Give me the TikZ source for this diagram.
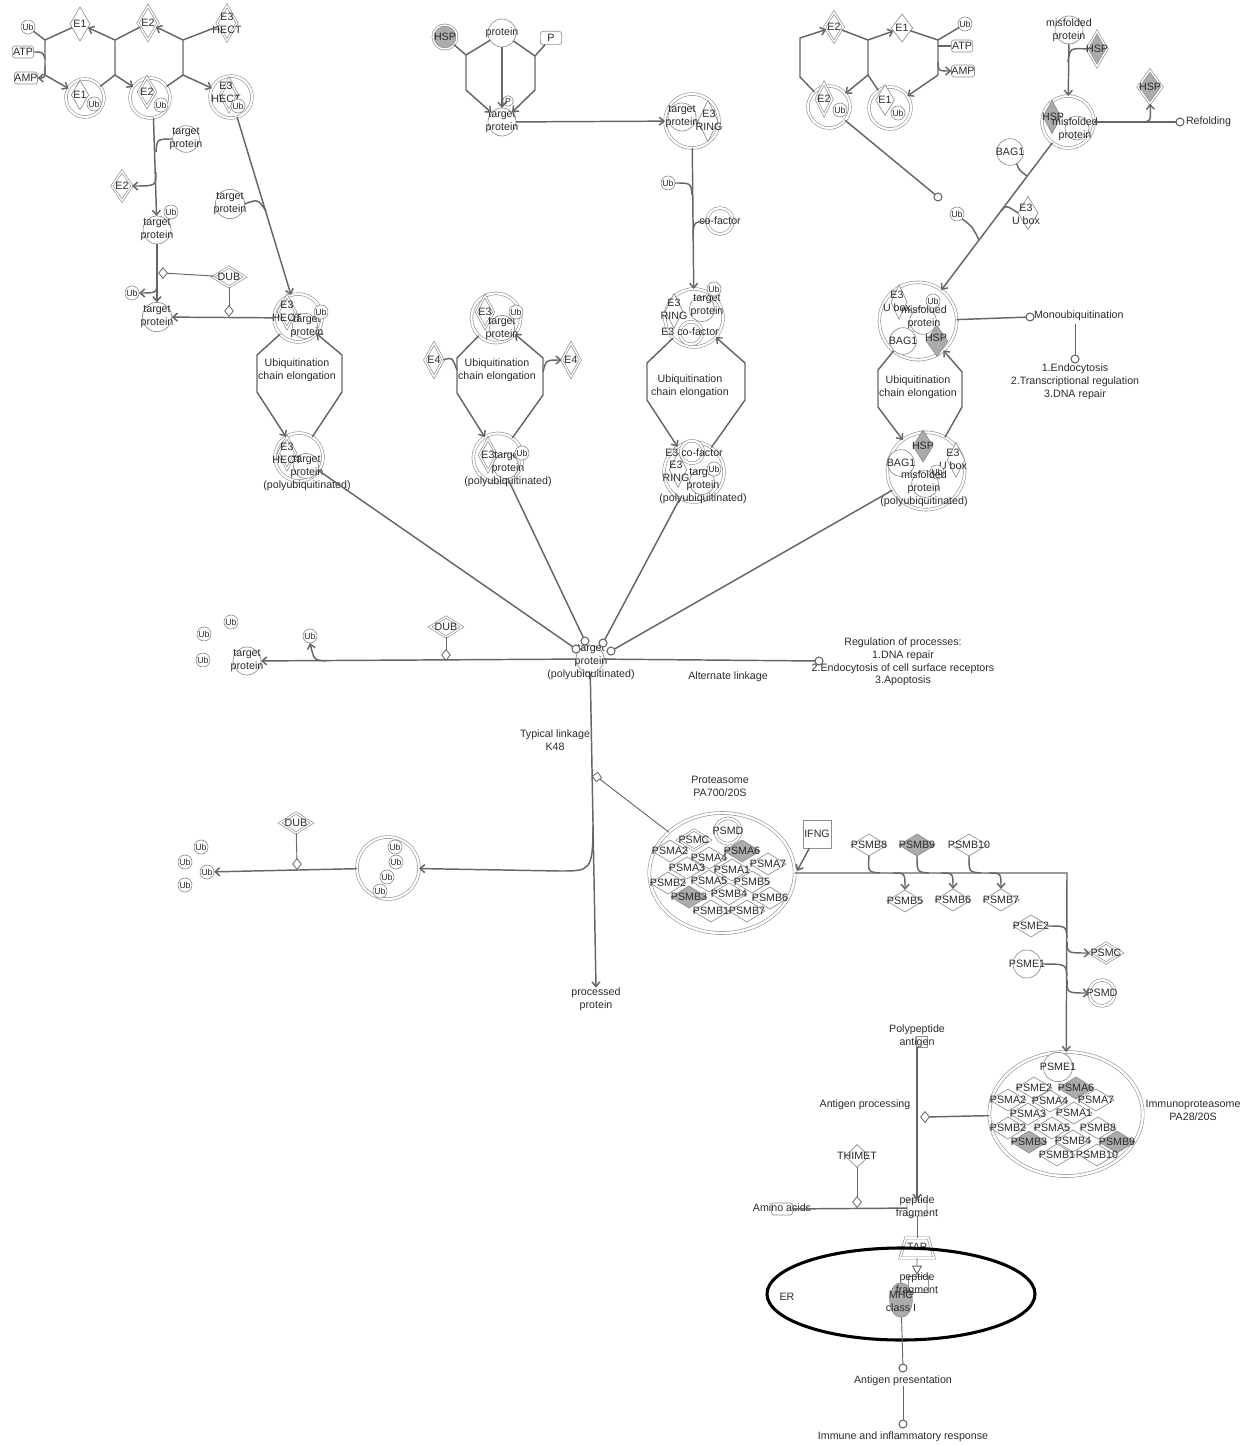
\documentclass[tikz,border=0pt]{standalone}
\usepackage{fontspec}
\setmainfont{Liberation Sans}
\usetikzlibrary{shapes.geometric,arrows.meta,calc}
\definecolor{lc}{HTML}{666666}
\definecolor{nc}{HTML}{8F8F8F}
\definecolor{tc}{HTML}{2B2B2B}
\definecolor{gf}{HTML}{ABABAB}
\tikzset{
 every node/.style={font=\fontsize{8}{9.6}\selectfont, text=tc, align=center, inner sep=0pt, outer sep=0pt},
 ln/.style={draw=lc, line width=1.1pt},
 mline/.style={draw=lc, line width=0.7pt},
 ar/.style={ln, -{Straight Barb[length=3.5pt,width=6pt]}},
 tx/.style={label={center:{#1}}},
 pc/.style={circle, draw=nc, fill=white, line width=0.5pt, minimum size=#1},
 cx/.style={circle, draw=nc, double=white, double distance=1.6pt, line width=0.45pt, fill=white, minimum size=#1},
 ub/.style={circle, draw=nc, fill=white, line width=0.5pt, minimum size=10.5pt, font=\fontsize{6.6}{7}\selectfont},
 dm/.style 2 args={diamond, draw=nc, fill=white, line width=0.5pt, minimum width=#1, minimum height=#2},
 dbl/.style={double=white, double distance=1pt},
 gr/.style={fill=gf},
 rr/.style={rectangle, rounded corners=2pt, draw=nc, fill=white, line width=0.5pt, minimum width=#1, minimum height=9pt},
 ec/.style={circle, draw=lc, line width=0.8pt, fill=white, minimum size=6pt},
 md/.style={diamond, draw=lc, line width=0.6pt, fill=white, minimum width=6.5pt, minimum height=8pt},
 ps/.style={diamond, draw=nc, line width=0.5pt, minimum width=27pt, minimum height=16.5pt},
}
\begin{document}
\begin{tikzpicture}[x=0.75pt,y=-0.75pt]
\useasboundingbox (0,0) rectangle (1250,1445);

%%%%%%%% TOP LEFT
\node[ub] (ubA) at (28,27) {Ub};
\node[rr=16pt] (atpA) at (23,52) {ATP};
\node[rr=16pt] (ampA) at (26,78) {AMP};
\node[dm={15pt}{25.5pt}, tx=E1] (e1A) at (80,24) {};
\node[dm={15pt}{25.5pt}, dbl, tx=E2] (e2A) at (148,23) {};
\node[dm={15pt}{26pt}, dbl, tx={E3\\HECT}] (e3A) at (227,23) {};
\node[cx=28.5pt] (cxE1) at (85,98) {};
\node[dm={13pt}{22pt}, tx=E1] (cxE1d) at (80,95) {};
\node[ub] (cxE1u) at (94,104) {Ub};
\node[cx=30pt] (cxE2) at (150,98) {};
\node[dm={13pt}{22pt}, dbl, tx=E2] (cxE2d) at (147,92) {};
\node[ub] (cxE2u) at (161,105) {Ub};
\node[cx=31.5pt] (cxE3) at (231,97) {};
\node[dm={13pt}{24pt}, dbl] (cxE3d) at (229,95) {};
\node (cxE3t) at (226,92) {E3\\HECT};
\node[ub] (cxE3u) at (238,106) {Ub};

\node[pc=20pt, tx={target\\protein}] (tp1) at (186,139) {};
\node[dm={15pt}{22pt}, dbl, tx=E2] (e2B) at (122,186) {};
\node[pc=21pt, tx={target\\protein}] (tp2) at (157,230) {};
\node[ub] (tp2u) at (171,212) {Ub};
\node[dm={24pt}{15pt}, dbl, tx=DUB] (dub1) at (229,277) {};
\node[ub] (ubB) at (132,293) {Ub};
\node[pc=22pt, tx={target\\protein}] (tp3) at (157,317) {};
\node[pc=22pt, tx={target\\protein}] (tp4) at (230,204) {};

%%%%%%%% HECT cycle
\node[cx=36pt] (hc1) at (298,318) {};
\node[dm={13pt}{24pt}, dbl] (hc1d) at (287,312) {};
\node[pc=19pt] (hc1p) at (305,326) {};
\node (hc1t) at (287,311) {E3\\HECT};
\node (hc1q) at (307,327) {target\\protein};
\node[ub] (hc1u) at (321,312) {Ub};
\node[cx=36pt] (hc2) at (299,457) {};
\node[dm={13pt}{24pt}, dbl] (hc2d) at (287,453) {};
\node[pc=19pt] (hc2p) at (306,466) {};
\node (hc2t) at (287,453) {E3\\HECT};
\node (hc2q) at (307,473) {target\\protein\\(polyubiquitinated)};
\node (uce1) at (297,370) {Ubiquitination\\chain elongation};

%%%%%%%% E4 cycle
\node[cx=37pt] (ec1) at (496,318) {};
\node[dm={13pt}{24pt}, dbl, tx=E3] (ec1d) at (485,312) {};
\node[pc=19pt] (ec1p) at (502,328) {};
\node (ec1q) at (502,329) {target\\protein};
\node[ub] (ec1u) at (516,312) {Ub};
\node[cx=37pt] (ec2) at (498,458) {};
\node[dm={13pt}{24pt}, dbl, tx=E3] (ec2d) at (488,455) {};
\node[pc=19pt] (ec2p) at (506,466) {};
\node (ec2q) at (508,469) {target\\protein\\(polyubiquitinated)};
\node[ub] (ec2u) at (522,453) {Ub};
\node[dm={14pt}{25pt}, dbl, tx=E4] (e4L) at (434,360) {};
\node[dm={14pt}{25pt}, dbl, tx=E4] (e4R) at (571,360) {};
\node (uce2) at (497,370) {Ubiquitination\\chain elongation};

%%%%%%%% TOP MIDDLE
\node[pc=18pt, gr, dbl, tx=HSP] (hsp1) at (445,37) {};
\node[pc=21pt, tx=protein] (prot1) at (502,33) {};
\node[rr=16pt, minimum height=10pt] (p1) at (551,38) {P};
\node[pc=21pt, tx={target\\protein}] (tp5) at (502,122) {};
\node[ub, minimum size=8pt] (tp5u) at (508,101) {P};

%%%%%%%% RING
\node[cx=40.5pt] (rc0) at (692,121) {};
\node[pc=21pt] (rc0p) at (682,117) {};
\node[dm={15pt}{31pt}] (rc0d) at (708,121) {};
\node (rc0t) at (682,117) {target\\protein};
\node (rc0e) at (709,120) {E3\\RING};
\node[ub] (ubR) at (668,183) {Ub};
\node[cx=19.5pt] (cof) at (720,221) {};
\node (coft) at (720,221) {co-factor};

\node[cx=43.5pt] (rc1) at (694,318) {};
\node[dm={13pt}{26pt}] (rc1d) at (674,311) {};
\node[pc=19pt] (rc1p) at (702,309) {};
\node[cx=17pt] (rc1c) at (691,333) {};
\node (rc1e) at (674,309) {E3\\RING};
\node (rc1q) at (707,306) {target\\protein};
\node (rc1f) at (690,332) {E3 co-factor};
\node[ub] (rc1u) at (714,289) {Ub};
\node[cx=45pt] (rc2) at (694,472) {};
\node[cx=17pt] (rc2c) at (692,452) {};
\node[dm={13pt}{26pt}] (rc2d) at (678,470) {};
\node[pc=19pt] (rc2p) at (702,482) {};
\node (rc2f) at (694,453) {E3 co-factor};
\node (rc2e) at (676,471) {E3\\RING};
\node (rc2q) at (703,486) {target\\protein\\(polyubiquitinated)};
\node[ub] (rc2u) at (714,469) {Ub};
\node (uce3) at (690,386) {Ubiquitination\\chain elongation};

%%%%%%%% TOP RIGHT
\node[dm={14pt}{22pt}, dbl, tx=E2] (e2C) at (834,27) {};
\node[dm={16pt}{21pt}, tx=E1] (e1C) at (902,28) {};
\node[ub] (ubC) at (965,24) {Ub};
\node[rr=16pt] (atpC) at (962,46) {ATP};
\node[rr=16pt] (ampC) at (963,71) {AMP};
\node[cx=31.5pt] (cxC2) at (829,107) {};
\node[dm={12pt}{24pt}, dbl, tx=E2] (cxC2d) at (824,99) {};
\node[ub] (cxC2u) at (840,110) {Ub};
\node[cx=31.5pt] (cxC1) at (890,108) {};
\node[dm={14pt}{23pt}, tx=E1] (cxC1d) at (885,100) {};
\node[ub] (cxC1u) at (898,113) {Ub};
\node[ec] (ceC) at (938,197) {};

\node[pc=21pt, tx={misfolded\\protein}] (mf1) at (1069,30) {};
\node[dm={15pt}{26pt}, dbl, gr, tx=HSP] (hsp2) at (1097,49) {};
\node[cx=39pt] (mfc) at (1068,122) {};
\node[dm={13pt}{25pt}, gr] (mfcd) at (1052,117) {};
\node[pc=18pt] (mfcp) at (1077,128) {};
\node (mfct) at (1053,117) {HSP};
\node (mfcq) at (1075,129) {misfolded\\protein};
\node[dm={18pt}{25pt}, dbl, gr, tx=HSP] (hsp3) at (1150,87) {};
\node[ec] (refc) at (1180,122) {};
\node[anchor=west] (reft) at (1186,122) {Refolding};
\node[pc=20pt, tx=BAG1] (bag1) at (1010,152) {};
\node[dm={15pt}{25pt}] (e3U) at (1028,213) {};
\node (e3Ut) at (1026,214) {E3\\U box};
\node[ub] (ubU) at (957,214) {Ub};

%%%%%%%% U-box cycle
\node[cx=58pt] (uc1) at (918,321) {};
\node[dm={12pt}{26pt}] (uc1d) at (899,302) {};
\node[pc=20pt] (uc1p) at (923,321) {};
\node[pc=20pt] (uc1b) at (903,341) {};
\node[dm={16pt}{23pt}, gr] (uc1h) at (937,341) {};
\node (uc1e) at (897,301) {E3\\U box};
\node (uc1q) at (924,317) {misfolded\\protein};
\node (uc1bt) at (903,341) {BAG1};
\node (uc1ht) at (936,338) {HSP};
\node[ub] (uc1u) at (933,301) {Ub};
\node[ec] (monoc) at (1030,317) {};
\node[anchor=west] (monot) at (1034,316) {Monoubiquitination};
\coordinate (monod) at (1075,324);
\node[ec] (endoc) at (1075,359) {};
\node (endot) at (1075,382) {1.Endocytosis\\2.Transcriptional regulation\\3.DNA repair};
\node[cx=58pt] (uc2) at (926,471) {};
\node[dm={15pt}{24pt}, gr] (uc2h) at (923,446) {};
\node[dm={13pt}{26pt}] (uc2d) at (956,460) {};
\node[pc=20pt] (uc2b) at (901,463) {};
\node[pc=20pt] (uc2p) at (925,484) {};
\node (uc2ht) at (923,446) {HSP};
\node (uc2e) at (953,459) {E3\\U box};
\node (uc2bt) at (901,463) {BAG1};
\node[ub] (uc2u) at (937,472) {Ub};
\node (uc2q) at (924,489) {misfolded\\protein\\(polyubiquitinated)};
\node (uce4) at (918,387) {Ubiquitination\\chain elongation};

%%%%%%%% CENTER
\node[pc=21pt] (ctp) at (590,659) {};
\node (ctpt) at (591,662) {target\\protein\\(polyubiquitinated)};
\node[ec] (ce1) at (576,649) {};
\node[ec] (ce2) at (585,641) {};
\node[ec] (ce3) at (603,643) {};
\node[ec] (ce4) at (611,651) {};
\node[ec] (regc) at (819,661) {};
\node (regt) at (903,662) {Regulation of processes:\\1.DNA repair\\2.Endocytosis of cell surface receptors\\3.Apoptosis};
\node (altl) at (728,677) {Alternate linkage};
\node[pc=21pt, tx={target\\protein}] (tp6) at (247,661) {};
\node[ub] (ubL1) at (231,622) {Ub};
\node[ub] (ubL2) at (204,634) {Ub};
\node[ub] (ubL3) at (203,660) {Ub};
\node[ub] (ubL4) at (310,636) {Ub};
\node[dm={24pt}{15pt}, dbl, tx=DUB] (dub2) at (446,627) {};
\node (procp) at (596,999) {processed\\protein};
\node (typl) at (555,740) {Typical linkage\\K48};

%%%%%%%% Ub complex
\node[cx=46.5pt] (ubcx) at (388,868) {};
\node[ub] (ubx1) at (395,847) {Ub};
\node[ub] (ubx2) at (396,862) {Ub};
\node[ub] (ubx3) at (387,877) {Ub};
\node[ub] (ubx4) at (380,891) {Ub};
\node[ub] (ubF1) at (201,847) {Ub};
\node[ub] (ubF2) at (185,862) {Ub};
\node[ub] (ubF3) at (207,872) {Ub};
\node[ub] (ubF4) at (185,885) {Ub};
\node[dm={24pt}{15pt}, dbl, tx=DUB] (dub3) at (296,823) {};

%%%%%%%% Proteasome
\node (pcxt) at (720,786) {Proteasome\\PA700/20S};
\node[ellipse, draw=nc, double=white, double distance=1.8pt, line width=0.45pt, fill=white, minimum width=109pt, minimum height=90pt] (pcx) at (722,873) {};
\node[ps, gr, tx=PSMA6] (pa6) at (742,851) {};
\node[ps, gr, tx=PSMB3] (pb3) at (689,897) {};
\node[cx=19pt, tx=PSMD] (psmd1) at (728,831) {};
\node[ps, dbl, minimum width=24pt, minimum height=15pt, tx=PSMC] (psmc1) at (694,840) {};
\node[ps, tx=PSMA2] (pa2) at (670,851) {};
\node[ps, tx=PSMA4] (pa4) at (709,858) {};
\node[ps, tx=PSMA7] (pa7) at (768,864) {};
\node[ps, tx=PSMA3] (pa3) at (687,868) {};
\node[ps, tx=PSMA1] (pa1) at (732,870) {};
\node[ps, tx=PSMB2] (pb2) at (668,883) {};
\node[ps, tx=PSMA5] (pa5) at (709,881) {};
\node[ps, tx=PSMB5] (pb5) at (752,882) {};
\node[ps, tx=PSMB4] (pb4) at (729,894) {};
\node[ps, tx=PSMB6] (pb6) at (770,898) {};
\node[ps, tx=PSMB1] (pb1) at (711,911) {};
\node[ps, tx=PSMB7] (pb7) at (747,911) {};
\node[rectangle, draw=nc, line width=0.6pt, fill=white, minimum size=21pt] (ifng) at (817,834) {IFNG};
\coordinate (pjoin) at (797,871);

\node[ps, tx=PSMB8] (b8) at (869,845) {};
\node[ps, gr, tx=PSMB9] (b9) at (917,845) {};
\node[ps, tx=PSMB10] (b10) at (969,845) {};
\node[ps, tx=PSMB5] (b5) at (905,901) {};
\node[ps, tx=PSMB6] (b6) at (953,900) {};
\node[ps, tx=PSMB7] (b7) at (1001,900) {};
\node[ps, tx=PSME2] (me2) at (1031,926) {};
\node[dm={24pt}{15pt}, dbl, tx=PSMC] (psmc2) at (1106,953) {};
\node[pc=21pt, tx=PSME1] (me1) at (1027,964) {};
\node[cx=19.5pt, tx=PSMD] (psmd2) at (1102,993) {};

%%%%%%%% Immunoproteasome
\node[ellipse, draw=nc, double=white, double distance=1.8pt, line width=0.45pt, fill=white, minimum width=115pt, minimum height=93pt] (ipcx) at (1066,1114) {};
\node[pc=22pt, tx=PSME1] (ime1) at (1058,1067) {};
\node[ps, gr, tx=PSMA6] (ia6) at (1076,1088) {};
\node[ps, gr, tx=PSMB3] (ib3) at (1029,1142) {};
\node[ps, gr, tx=PSMB9] (ib9) at (1117,1142) {};
\node[ps, tx=PSME2] (ime2) at (1034,1088) {};
\node[ps, tx=PSMA2] (ia2) at (1008,1100) {};
\node[ps, tx=PSMA4] (ia4) at (1050,1101) {};
\node[ps, tx=PSMA7] (ia7) at (1096,1100) {};
\node[ps, tx=PSMA3] (ia3) at (1028,1114) {};
\node[ps, tx=PSMA1] (ia1) at (1074,1113) {};
\node[ps, tx=PSMB2] (ib2) at (1008,1128) {};
\node[ps, tx=PSMA5] (ia5) at (1052,1128) {};
\node[ps, tx=PSMB8] (ib8) at (1098,1128) {};
\node[ps, tx=PSMB4] (ib4) at (1073,1141) {};
\node[ps, tx=PSMB1] (ib1) at (1057,1155) {};
\node[ps, tx=PSMB10] (ib10) at (1097,1155) {};
\node (ipt) at (1193,1110) {Immunoproteasome\\PA28/20S};

%%%%%%%% Antigen processing
\node[rectangle, draw=nc, line width=0.5pt, minimum width=8pt, minimum height=8pt] (ppr) at (922,1042) {};
\node (pp) at (917,1036) {Polypeptide\\antigen};
\node (apr) at (865,1105) {Antigen processing};
\node[dm={18pt}{17pt}, tx=THIMET] (thimet) at (857,1156) {};
\node[rectangle, rounded corners=2pt, draw=nc, line width=0.5pt, minimum width=16pt, minimum height=9pt] (aar) at (782,1209) {};
\node (aat) at (782,1208) {Amino acids};
\node[rectangle, rounded corners=1pt, draw=nc, line width=0.5pt, minimum width=15pt, minimum height=12pt] (pfr) at (917,1208) {};
\node (pf) at (917,1207) {peptide\\fragment};
\node[trapezium, trapezium left angle=72, trapezium right angle=72, trapezium stretches=true, draw=nc, line width=0.5pt, double=white, double distance=1.2pt, fill=white, inner sep=1pt, minimum width=22pt, minimum height=15pt, text height=7pt, text depth=4pt] (tap) at (917,1248) {TAP};
\node[ellipse, draw=black, line width=2.3pt, minimum width=201pt, minimum height=69pt] (er) at (901,1294) {};
\node (ert) at (787,1297) {ER};
\node[ellipse, draw=nc, fill=gf, line width=0.5pt, minimum width=17pt, minimum height=26pt] (mhc) at (901,1300) {};
\node[rectangle, draw=nc, line width=0.5pt, minimum width=15pt, minimum height=12pt] (pf2r) at (918,1284) {};
\node (pf2) at (917,1284) {peptide\\fragment};
\node (mhct) at (901,1301) {MHC\\class I};
\coordinate (taptip) at (917,1275);
\node[ec] (apc) at (903,1368) {};
\node (apt) at (903,1381) {Antigen presentation};
\node[ec] (imc) at (903,1424) {};
\node (imt) at (903,1437) {Immune and inflammatory response};

%%%%%%%%%%%%%%%% CONNECTORS
% top-left reactions
\coordinate (r1t) at (45,40); \coordinate (r1b) at (45,75);
\draw[ln] (ubA) -- (r1t) -- (r1b);
\draw[ln] (e1A) -- (r1t);
\draw[ln] (atpA.east) .. controls (43,52) .. (45,59);
\draw[ar] (45,66) .. controls (45,78) .. (ampA.east);
\draw[ar] (r1b) -- (cxE1);
\coordinate (r2t) at (115,40); \coordinate (r2b) at (115,75);
\draw[ln] (cxE1) -- (r2b) -- (r2t) -- (e2A);
\draw[ar] (r2t) -- (e1A);
\draw[ar] (r2b) -- (cxE2);
\coordinate (r3t) at (183,40); \coordinate (r3b) at (183,75);
\draw[ln] (cxE2) -- (r3b) -- (r3t) -- (e3A);
\draw[ar] (r3t) -- (e2A);
\draw[ar] (r3b) -- (cxE3);

\draw[ar] (cxE2.-80) -- (tp2);
\draw[ln] (tp1.west) .. controls (157,139) .. (156,152);
\draw[ar] (156,172) .. controls (156,186) .. (e2B.east);
\draw[ar] (tp2) -- (tp3);
\draw[ar] (157,280) .. controls (157,293) .. (ubB.east);
\draw[ar] (cxE3) -- (hc1);
\draw[ln] (tp4.east) .. controls (258,199) .. (266,211);
\draw[ar] (hc1) -- (tp3);

% HECT cycle
\draw[ar] (hc1) -- (257,355) -- (257,392) -- (hc2);
\draw[ar] (hc2) -- (342,392) -- (342,355) -- (hc1);
% E4 cycle
\draw[ar] (ec1) -- (457,358) -- (457,393) -- (ec2);
\draw[ar] (ec2) -- (543,395) -- (543,358) -- (ec1);
\draw[ln] (e4L.east) .. controls (452,357) .. (457,370);
\draw[ar] (543,372) .. controls (546,360) .. (e4R.west);

% top middle
\coordinate (m1t) at (466,55); \coordinate (m1b) at (466,90);
\draw[ln] (hsp1) -- (m1t); \draw[ln] (prot1) -- (m1t);
\draw[ar] (m1t) -- (m1b) -- (tp5);
\coordinate (m2t) at (535,56); \coordinate (m2b) at (535,90);
\draw[ln] (prot1) -- (m2t); \draw[ln] (p1) -- (m2t);
\draw[ar] (m2t) -- (m2b) -- (tp5);
\draw[ar] (prot1) -- (tp5);

% RING
\draw[ar] (tp5) -- (rc0);
\draw[ar] (rc0) -- (rc1);
\draw[ln] (ubR.east) .. controls (691,183) .. (692,195);
\draw[ln] (cof.west) .. controls (694,222) .. (693,234);
\draw[ar] (rc1) -- (647,363) -- (647,400) -- (rc2);
\draw[ar] (rc2) -- (745,400) -- (745,363) -- (rc1);

% top right
\coordinate (sAt) at (938,40); \coordinate (sAb) at (938,75);
\draw[ln] (ubC) -- (sAt) -- (sAb);
\draw[ln] (e1C) -- (sAt);
\draw[ln] (atpC.west) -- (938,46);
\draw[ar] (938,62) .. controls (938,71) .. (ampC.west);
\draw[ar] (sAb) -- (cxC1);
\coordinate (sBt) at (868,40); \coordinate (sBb) at (868,75);
\draw[ln] (cxC1) -- (sBb) -- (sBt) -- (e2C);
\draw[ar] (sBt) -- (e1C);
\draw[ar] (sBb) -- (cxC2);
\draw[ar] (cxC2) -- (800,77) -- (800,38) -- (e2C);
\draw[ln] (cxC2) -- (ceC);

\draw[ar] (mf1) -- (mfc);
\draw[ln] (hsp2.west) .. controls (1070,48) .. (1068,62);
\draw[ln] (mfc) -- (refc);
\draw[ar] (1140,122) .. controls (1151,122) .. (hsp3.south);
\draw[ar] (mfc) -- (uc1);
\draw[ln] (bag1.-60) .. controls (1019,170) .. (1027,176);
\draw[ln] (e3U.west) .. controls (1006,205) .. (1001,211);
\draw[ln] (ubU.-45) .. controls (972,226) .. (979,240);

% U-box
\draw[ln] (uc1) -- (monoc);
\draw[mline] (monod) -- (endoc);
\draw[ar] (uc1) -- (878,370) -- (878,407) -- (uc2);
\draw[ar] (uc2) -- (962,407) -- (962,372) -- (uc1);

% center
\draw[ln] (hc2) -- (ce1);
\draw[ln] (ec2) -- (ce2);
\draw[ln] (rc2) -- (ce3);
\draw[ln] (uc2) -- (ce4);
\draw[ar] (ctp) -- (tp6);
\draw[ln] (ctp) -- (regc);
\draw[ar] (326,661) .. controls (314,660) .. (ubL4.south);
\draw[ar] (ctp) -- (procp.north);
\draw[ar] (593,826) .. controls (593,871) and (590,871) .. (560,871) -- (ubcx);
\draw[ar] (ubcx) -- (ubF3);

% proteasome
\draw[ar] (ifng) -- (pjoin);
\draw[ar] (pcx) -- (1067,873) -- (ipcx);
\draw[ln] (b8.south) .. controls (868,872) .. (880,873);
\draw[ar] (893,873) .. controls (905,873) .. (b5.north);
\draw[ln] (b9.south) .. controls (917,872) .. (929,873);
\draw[ar] (941,873) .. controls (953,873) .. (b6.north);
\draw[ln] (b10.south) .. controls (969,872) .. (981,873);
\draw[ar] (989,873) .. controls (1001,873) .. (b7.north);
\draw[ln] (me2.east) .. controls (1066,926) .. (1067,938);
\draw[ar] (1067,942) .. controls (1067,953) .. (psmc2.west);
\draw[ln] (me1.east) .. controls (1066,964) .. (1067,976);
\draw[ar] (1067,980) .. controls (1067,993) .. (psmd2.west);

% antigen
\draw[ar] (pp.south) -- (pfr.north);
\draw[ln] (pfr) -- (aar);
\draw[mline] (pfr) -- (tap);
\draw[mline, -{Triangle[open, length=7pt, width=7.5pt]}] (tap) -- (taptip);
\draw[mline] (mhc) -- (apc);
\draw[mline] (apt) -- (imc);

%%%%%%%% modulators
\node[md] (md1) at (163,273) {};
\node[md] (md2) at (229,311) {};
\draw[mline] (dub1) -- (md1);
\draw[mline] (dub1) -- (md2);
\node[md] (md3) at (446,655) {};
\draw[mline] (dub2) -- (md3);
\node[md] (md5) at (297,864) {};
\draw[mline] (dub3) -- (md5);
\node[rectangle, draw=lc, line width=0.6pt, fill=white, minimum size=5pt, rotate=35] (md4) at (597,777) {};
\draw[mline] (md4) -- (pcx);
\node[md] (md6) at (925,1117) {};
\draw[ln] (ipcx) -- (md6);
\node[md] (md7) at (857,1202) {};
\draw[mline] (thimet) -- (md7);
\end{tikzpicture}
\end{document}
